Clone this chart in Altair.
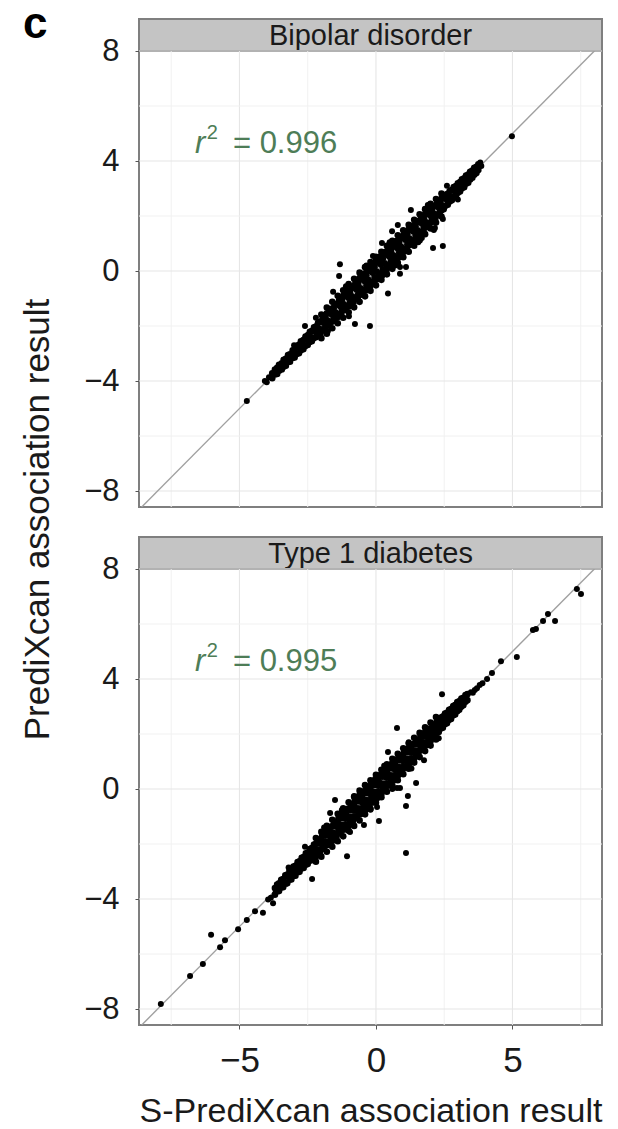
import altair as alt
import pandas as pd

FONT = "Liberation Sans"
TXT = "#1a1a1a"
GREEN = "#4e7d57"

# ---------------- Bipolar disorder ----------------
bp_x = [-3.80, -3.70, -3.62, -3.55, -3.45, -3.38, -3.30, -3.22, -3.15, -3.05,
        -2.98, -2.90, -2.82, -2.75, -2.66, -2.58, -2.50, -2.42, -2.35, -2.27,
        -2.20, -2.12, -2.03, -1.95, -1.88, -1.80, -1.72, -1.65, -1.57, -1.50,
        -1.42, -1.35, -1.27, -1.20, -1.12, -1.05, -0.97, -0.90, -0.82, -0.75,
        -0.67, -0.60, -0.52, -0.45, -0.37, -0.30, -0.22, -0.15, -0.07, 0.00,
        0.08, 0.15, 0.23, 0.30, 0.38, 0.45, 0.53, 0.60, 0.68, 0.75,
        0.83, 0.90, 0.98, 1.05, 1.13, 1.20, 1.28, 1.35, 1.43, 1.50,
        1.58, 1.65, 1.73, 1.80, 1.88, 1.95, 2.03, 2.10, 2.18, 2.25,
        2.33, 2.40, 2.48, 2.55, 2.63, 2.70, 2.78, 2.85, 2.93, 3.00,
        3.08, 3.15, 3.23, 3.30, 3.38, 3.45, 3.53, 3.60, 3.68, 3.75]
bp_ya = [-3.72, -3.58, -3.52, -3.41, -3.36, -3.23, -3.19, -3.06, -3.03, -2.88,
         -2.85, -2.72, -2.68, -2.56, -2.51, -2.38, -2.34, -2.21, -2.18, -2.05,
         -2.02, -1.88, -1.84, -1.70, -1.68, -1.54, -1.51, -1.38, -1.35, -1.22,
         -1.19, -1.06, -1.03, -0.90, -0.87, -0.74, -0.71, -0.58, -0.55, -0.42,
         -0.39, -0.26, -0.23, -0.10, -0.07, 0.06, 0.09, 0.22, 0.25, 0.38,
         0.41, 0.53, 0.57, 0.67, 0.71, 0.81, 0.85, 0.95, 0.99, 1.09,
         1.13, 1.23, 1.27, 1.37, 1.41, 1.51, 1.55, 1.65, 1.69, 1.79,
         1.83, 1.93, 1.97, 2.07, 2.11, 2.21, 2.25, 2.35, 2.39, 2.49,
         2.53, 2.63, 2.67, 2.77, 2.81, 2.91, 2.95, 3.05, 3.09, 3.19,
         3.23, 3.33, 3.37, 3.47, 3.51, 3.61, 3.65, 3.75, 3.79, 3.88]
bp_yb = [-3.90, -3.76, -3.74, -3.63, -3.58, -3.48, -3.44, -3.31, -3.30, -3.16,
         -3.14, -3.02, -2.99, -2.88, -2.84, -2.72, -2.69, -2.57, -2.55, -2.43,
         -2.41, -2.29, -2.26, -2.13, -2.12, -1.99, -1.97, -1.85, -1.83, -1.71,
         -1.69, -1.57, -1.55, -1.43, -1.41, -1.29, -1.27, -1.15, -1.13, -1.01,
         -0.99, -0.87, -0.85, -0.73, -0.71, -0.59, -0.57, -0.45, -0.43, -0.31,
         -0.29, -0.17, -0.15, -0.03, 0.01, 0.13, 0.17, 0.29, 0.33, 0.45,
         0.49, 0.61, 0.65, 0.77, 0.81, 0.93, 0.97, 1.09, 1.13, 1.25,
         1.29, 1.41, 1.45, 1.57, 1.61, 1.73, 1.77, 1.89, 1.93, 2.05,
         2.09, 2.21, 2.25, 2.37, 2.41, 2.53, 2.57, 2.69, 2.73, 2.85,
         2.89, 3.01, 3.05, 3.17, 3.21, 3.33, 3.39, 3.50, 3.56, 3.67]
bp_xc = [-3.72, -3.57, -3.42, -3.27, -3.12, -2.97, -2.82, -2.67, -2.52, -2.37,
         -2.22, -2.07, -1.92, -1.77, -1.62, -1.47, -1.32, -1.17, -1.02, -0.87,
         -0.72, -0.57, -0.42, -0.27, -0.12, 0.03, 0.18, 0.33, 0.48, 0.63,
         0.78, 0.93, 1.08, 1.23, 1.38, 1.53, 1.68, 1.83, 1.98, 2.13,
         2.28, 2.43, 2.58, 2.73, 2.88, 3.03, 3.18, 3.33, 3.48, 3.63]
bp_yc = [-3.70, -3.60, -3.39, -3.30, -3.09, -3.01, -2.78, -2.71, -2.49, -2.41,
         -2.18, -2.11, -1.88, -1.81, -1.57, -1.52, -1.27, -1.22, -0.96, -0.93,
         -0.66, -0.63, -0.36, -0.33, -0.06, -0.03, 0.24, 0.27, 0.54, 0.57,
         0.84, 0.87, 1.14, 1.17, 1.44, 1.47, 1.74, 1.77, 2.04, 2.07,
         2.33, 2.38, 2.62, 2.69, 2.92, 2.99, 3.22, 3.29, 3.52, 3.59]
bp_xq = [-2.60, -2.45, -2.30, -2.15, -2.00, -1.85, -1.70, -1.55, -1.40, -1.25,
         -1.10, -0.95, -0.80, -0.65, -0.50, -0.35, -0.20, -0.05, 0.10, 0.25,
         0.40, 0.55, 0.70, 0.85, 1.00, 1.15, 1.30, 1.45, 1.60, 1.75,
         1.90, 2.05, 2.20, 2.35, 2.50, 2.65, 2.80, 2.95, 3.10]
bp_yq_up = [-2.48, -2.31, -2.16, -1.99, -1.84, -1.68, -1.53, -1.37, -1.22, -1.06,
            -0.91, -0.76, -0.61, -0.46, -0.31, -0.15, 0.00, 0.15, 0.30, 0.45,
            0.60, 0.74, 0.89, 1.04, 1.19, 1.34, 1.48, 1.63, 1.78, 1.92,
            2.07, 2.22, 2.36, 2.50, 2.64, 2.78, 2.93, 3.07, 3.22]
bp_yq_dn = [-2.73, -2.59, -2.45, -2.31, -2.17, -2.02, -1.88, -1.73, -1.59, -1.44,
            -1.29, -1.14, -0.99, -0.84, -0.69, -0.54, -0.39, -0.24, -0.09, 0.06,
            0.21, 0.36, 0.51, 0.66, 0.81, 0.96, 1.12, 1.27, 1.42, 1.58,
            1.73, 1.88, 2.04, 2.19, 2.35, 2.51, 2.66, 2.82, 2.98]
bp_xo = [-2.0, -1.8, -1.6, -1.4, -1.2, -1.0, -0.8, -0.6, -0.4, -0.2, 0.0, 0.2,
         0.4, 0.6, 0.8, 1.0, 1.2, 1.4, 1.6, 1.8, 2.0, 2.2, 2.4]
bp_yo_up = [-1.58, -1.33, -1.12, -0.90, -0.70, -0.47, -0.28, -0.06, 0.14, 0.33, 0.52, 0.70,
            0.92, 1.10, 1.30, 1.48, 1.68, 1.86, 2.06, 2.25, 2.44, 2.62, 2.82]
bp_yo_dn = [-2.44, -2.28, -2.08, -1.90, -1.70, -1.50, -1.32, -1.12, -0.92, -0.72, -0.52, -0.32,
            -0.12, 0.08, 0.30, 0.50, 0.70, 0.92, 1.12, 1.34, 1.55, 1.76, 1.98]
bp_ox = [-4.73, -4.07, -4.00, -3.92, 3.82, 3.86, 4.98,
         1.28, 0.80, 0.59, 0.22, 2.45, 2.16, 2.09, 2.45, -1.32, -1.35, 0.88, 1.10,
         0.88, 0.44, -1.57, -0.77, -0.22, -2.60, -0.11, -1.76, -0.99, 2.12, 1.68,
         -2.20, -1.10, -0.35, 0.50, 0.70, 1.55, 2.60, -3.00, 1.90, 3.00]
bp_oy = [-4.73, -4.00, -4.04, -3.86, 3.95, 3.82, 4.90,
         2.22, 1.67, 1.45, 1.02, 1.89, 1.56, 0.84, 0.91, 0.25, -0.18, 0.15, 0.15,
         -0.10, -0.82, -0.75, -1.93, -2.00, -2.00, 0.55, -2.18, -1.64, 1.49, 1.20,
         -1.70, -0.55, 0.20, 1.05, 0.20, 1.05, 3.10, -2.70, 2.40, 2.60]

# ---------------- Type 1 diabetes ----------------
t1d_x = [-3.70, -3.62, -3.55, -3.47, -3.40, -3.32, -3.25, -3.17, -3.10, -3.02,
         -2.95, -2.87, -2.80, -2.72, -2.65, -2.57, -2.50, -2.42, -2.35, -2.27,
         -2.20, -2.12, -2.05, -1.97, -1.90, -1.82, -1.75, -1.67, -1.60, -1.52,
         -1.45, -1.37, -1.30, -1.22, -1.15, -1.07, -1.00, -0.92, -0.85, -0.77,
         -0.70, -0.62, -0.55, -0.47, -0.40, -0.32, -0.25, -0.17, -0.10, -0.02,
         0.05, 0.13, 0.20, 0.28, 0.35, 0.43, 0.50, 0.58, 0.65, 0.73,
         0.80, 0.88, 0.95, 1.03, 1.10, 1.18, 1.25, 1.33, 1.40, 1.48,
         1.55, 1.63, 1.70, 1.78, 1.85, 1.93, 2.00, 2.08, 2.15, 2.23,
         2.30, 2.38, 2.45, 2.53, 2.60, 2.68, 2.75, 2.83, 2.90, 2.98,
         3.05, 3.13, 3.20, 3.28, 3.35]
t1d_ya = [-3.60, -3.47, -3.43, -3.30, -3.27, -3.14, -3.11, -2.98, -2.95, -2.82,
          -2.79, -2.66, -2.63, -2.50, -2.47, -2.34, -2.31, -2.18, -2.15, -2.02,
          -1.99, -1.86, -1.83, -1.70, -1.67, -1.54, -1.51, -1.38, -1.35, -1.22,
          -1.19, -1.06, -1.03, -0.90, -0.87, -0.73, -0.71, -0.57, -0.55, -0.41,
          -0.39, -0.25, -0.23, -0.09, -0.07, 0.06, 0.09, 0.22, 0.25, 0.36,
          0.39, 0.50, 0.53, 0.64, 0.67, 0.78, 0.81, 0.92, 0.95, 1.06,
          1.09, 1.20, 1.23, 1.34, 1.37, 1.48, 1.51, 1.62, 1.65, 1.76,
          1.79, 1.90, 1.93, 2.04, 2.07, 2.18, 2.21, 2.32, 2.35, 2.46,
          2.49, 2.60, 2.63, 2.74, 2.77, 2.88, 2.91, 3.02, 3.05, 3.16,
          3.19, 3.29, 3.32, 3.42, 3.45]
t1d_yb = [-3.84, -3.72, -3.71, -3.58, -3.57, -3.44, -3.43, -3.30, -3.29, -3.16,
          -3.15, -3.02, -3.01, -2.88, -2.87, -2.74, -2.73, -2.60, -2.59, -2.46,
          -2.45, -2.32, -2.31, -2.18, -2.17, -2.04, -2.03, -1.90, -1.89, -1.76,
          -1.75, -1.62, -1.61, -1.48, -1.47, -1.34, -1.33, -1.20, -1.19, -1.06,
          -1.05, -0.92, -0.91, -0.78, -0.77, -0.64, -0.63, -0.50, -0.48, -0.36,
          -0.33, -0.20, -0.17, -0.04, -0.01, 0.12, 0.15, 0.28, 0.31, 0.44,
          0.47, 0.60, 0.63, 0.76, 0.79, 0.92, 0.95, 1.08, 1.11, 1.24,
          1.27, 1.40, 1.43, 1.56, 1.59, 1.72, 1.75, 1.88, 1.91, 2.04,
          2.07, 2.20, 2.23, 2.36, 2.39, 2.52, 2.55, 2.68, 2.71, 2.84,
          2.88, 3.00, 3.05, 3.17, 3.23]
t1d_xc = [-3.66, -3.51, -3.36, -3.21, -3.06, -2.91, -2.76, -2.61, -2.46, -2.31,
          -2.16, -2.01, -1.86, -1.71, -1.56, -1.41, -1.26, -1.11, -0.96, -0.81,
          -0.66, -0.51, -0.36, -0.21, -0.06, 0.09, 0.24, 0.39, 0.54, 0.69,
          0.84, 0.99, 1.14, 1.29, 1.44, 1.59, 1.74, 1.89, 2.04, 2.19,
          2.34, 2.49, 2.64, 2.79, 2.94, 3.09, 3.24]
t1d_yc = [-3.70, -3.48, -3.40, -3.18, -3.10, -2.88, -2.80, -2.58, -2.50, -2.28,
          -2.20, -1.98, -1.90, -1.68, -1.60, -1.38, -1.30, -1.08, -1.00, -0.78,
          -0.70, -0.48, -0.40, -0.18, -0.10, 0.12, 0.20, 0.42, 0.50, 0.72,
          0.80, 1.02, 1.10, 1.32, 1.40, 1.62, 1.70, 1.92, 2.00, 2.22,
          2.30, 2.52, 2.60, 2.82, 2.90, 3.12, 3.20]
t1d_xq = [-2.90, -2.75, -2.60, -2.45, -2.30, -2.15, -2.00, -1.85, -1.70, -1.55,
          -1.40, -1.25, -1.10, -0.95, -0.80, -0.65, -0.50, -0.35, -0.20, -0.05,
          0.10, 0.25, 0.40, 0.55, 0.70, 0.85, 1.00, 1.15, 1.30, 1.45,
          1.60, 1.75, 1.90, 2.05, 2.20, 2.35, 2.50, 2.65, 2.80, 2.95, 3.10]
t1d_yq_up = [-2.78, -2.62, -2.46, -2.30, -2.14, -1.98, -1.83, -1.67, -1.52, -1.36,
             -1.21, -1.06, -0.91, -0.76, -0.60, -0.45, -0.30, -0.15, 0.00, 0.15,
             0.30, 0.45, 0.60, 0.75, 0.89, 1.04, 1.19, 1.34, 1.48, 1.63,
             1.78, 1.92, 2.07, 2.21, 2.36, 2.50, 2.65, 2.79, 2.93, 3.08, 3.22]
t1d_yq_dn = [-3.03, -2.89, -2.75, -2.61, -2.47, -2.32, -2.18, -2.04, -1.89, -1.74,
             -1.59, -1.44, -1.29, -1.14, -0.99, -0.84, -0.69, -0.54, -0.39, -0.24,
             -0.09, 0.06, 0.21, 0.36, 0.51, 0.66, 0.81, 0.96, 1.11, 1.27,
             1.42, 1.58, 1.73, 1.89, 2.04, 2.20, 2.35, 2.51, 2.67, 2.82, 2.98]
t1d_xo = [-2.2, -2.0, -1.8, -1.6, -1.4, -1.2, -1.0, -0.8, -0.6, -0.4, -0.2, 0.0,
          0.2, 0.4, 0.6, 0.8, 1.0, 1.2, 1.4, 1.6, 1.8, 2.0, 2.2]
t1d_yo_up = [-1.78, -1.56, -1.34, -1.12, -0.90, -0.70, -0.48, -0.28, -0.06, 0.14, 0.32, 0.52,
             0.70, 0.90, 1.10, 1.28, 1.48, 1.66, 1.86, 2.04, 2.24, 2.42, 2.62]
t1d_yo_dn = [-2.64, -2.46, -2.28, -2.10, -1.90, -1.72, -1.52, -1.34, -1.14, -0.92, -0.72, -0.50,
             -0.30, -0.10, 0.12, 0.32, 0.54, 0.74, 0.96, 1.16, 1.38, 1.58, 1.80]
t1d_ox = [-3.77, -4.14, -4.43, -4.73, -5.05, -5.53, -5.71, -6.04, -6.34, -6.81, -7.88, -3.85, -3.95,
          3.48, 3.55, 3.62, 3.70, 3.80, 3.90, 4.07, 4.25, 4.58, 5.16, 5.75, 5.86, 6.12, 6.30, 6.56, 7.36, 7.51,
          2.42, 0.77, 0.44, 1.76, 1.47, 1.17, 1.10, 0.77, 0.88, 0.11, -0.44, -1.50, -1.68, -0.95, -1.06,
          1.10, -2.34, -1.25, 0.04,
          -2.60, -1.90, -0.80, 0.30, 1.30, 0.60, -0.20, 2.30, 1.20, -3.20]
t1d_oy = [-4.15, -4.50, -4.44, -4.76, -5.10, -5.50, -5.75, -5.30, -6.36, -6.80, -7.82, -3.95, -4.02,
          3.52, 3.50, 3.60, 3.66, 3.78, 3.85, 4.00, 4.22, 4.65, 4.80, 5.78, 5.82, 6.11, 6.36, 6.11, 7.27, 7.09,
          3.45, 2.22, 1.35, 1.05, 0.22, -0.25, -0.62, 0.04, 0.04, -1.16, -1.31, -0.40, -0.87, -1.56, -2.44,
          -2.33, -3.27, -0.76, -0.65,
          -2.10, -1.40, -0.25, 0.85, 0.75, 0.00, -0.75, 1.85, 1.70, -2.85]

# annotation / guide values
panel_names = ["Bipolar disorder", "Type 1 diabetes"]
r2_values = ["0.996", "0.995"]
x_ticks = [-5, 0, 5]
y_ticks = [-8, -4, 0, 4, 8]
x_minor = [-7.5, -2.5, 2.5, 7.5]
y_minor = [-6, -2, 2, 6]
identity_line = [-9, 9]

W, H, SH = 463, 456, 32
XS = alt.Scale(domain=[-8.68, 8.28], nice=False, zero=False)
YS = alt.Scale(domain=[-8.58, 8.0], nice=False, zero=False)

Y_AXIS = alt.Axis(values=y_ticks, grid=False, title=None, domain=False,
                  labelFontSize=31, labelFont=FONT, labelColor=TXT,
                  tickColor="#555555", tickSize=4, labelPadding=16)
X_AXIS = alt.Axis(values=x_ticks, grid=False, domain=False,
                  title="S-PrediXcan association result", titleFontSize=34,
                  titleFont=FONT, titleFontWeight="normal", titleColor=TXT,
                  titlePadding=16, labelFontSize=35, labelFont=FONT,
                  labelColor=TXT, tickColor="#555555", tickSize=4, labelPadding=14)


def panel(band_x, band_y, out_x, out_y, r2, show_x):
    xax = X_AXIS if show_x else None

    def X(f):
        return alt.X(f, type="quantitative", scale=XS, axis=xax)

    def Y(f):
        return alt.Y(f, type="quantitative", scale=YS, axis=Y_AXIS)

    gxm = alt.Chart(pd.DataFrame({"v": x_minor})).mark_rule(color="#f1f1f1", strokeWidth=1).encode(x=X("v"))
    gxM = alt.Chart(pd.DataFrame({"v": x_ticks})).mark_rule(color="#e6e6e6", strokeWidth=1.1).encode(x=X("v"))
    gym = alt.Chart(pd.DataFrame({"v": y_minor})).mark_rule(color="#f1f1f1", strokeWidth=1).encode(y=Y("v"))
    gyM = alt.Chart(pd.DataFrame({"v": y_ticks})).mark_rule(color="#e6e6e6", strokeWidth=1.1).encode(y=Y("v"))
    diag = alt.Chart(pd.DataFrame({"x": identity_line, "y": identity_line})).mark_line(
        color="#a0a0a0", strokeWidth=1.4, clip=True).encode(x=X("x"), y=Y("y"))
    band = alt.Chart(pd.DataFrame({"x": band_x, "y": band_y})).mark_circle(
        size=44, color="#000000", opacity=1).encode(x=X("x"), y=Y("y"))
    outl = alt.Chart(pd.DataFrame({"x": out_x, "y": out_y})).mark_circle(
        size=36, color="#000000", opacity=1).encode(x=X("x"), y=Y("y"))
    t_r = alt.Chart(pd.DataFrame({"x": [-6.63], "y": [4.28], "t": ["r"]})).mark_text(
        align="left", baseline="alphabetic", fontSize=31, font=FONT, fontStyle="italic",
        color=GREEN).encode(x=X("x"), y=Y("y"), text="t:N")
    t_2 = alt.Chart(pd.DataFrame({"x": [-6.2], "y": [4.80], "t": ["2"]})).mark_text(
        align="left", baseline="alphabetic", fontSize=20, font=FONT,
        color=GREEN).encode(x=X("x"), y=Y("y"), text="t:N")
    t_eq = alt.Chart(pd.DataFrame({"x": [-5.24], "y": [4.28], "t": ["= " + r2]})).mark_text(
        align="left", baseline="alphabetic", fontSize=31, font=FONT,
        color=GREEN).encode(x=X("x"), y=Y("y"), text="t:N")
    return alt.layer(gxm, gxM, gym, gyM, diag, band, outl, t_r, t_2, t_eq).properties(
        width=W, height=H,
        view=alt.ViewBackground(stroke="#7f7f7f", strokeWidth=2, fill="white"))


def strip(name, tag=None):
    lab = alt.Chart(pd.DataFrame({"t": [name]})).mark_text(
        fontSize=29, font=FONT, color=TXT, baseline="alphabetic", align="center").encode(
        text="t:N", x=alt.value(W / 2), y=alt.value(26))
    layers = [lab]
    if tag:
        layers.append(alt.Chart(pd.DataFrame({"t": [tag]})).mark_text(
            fontSize=44, font=FONT, fontWeight="bold", color="#000000",
            baseline="alphabetic", align="left").encode(
            text="t:N", x=alt.value(-116), y=alt.value(19)))
    return alt.layer(*layers).properties(
        width=W, height=SH,
        view=alt.ViewBackground(fill="#c4c4c4", stroke="#7f7f7f", strokeWidth=2))


bp_band_x = bp_x + bp_x + bp_xc + bp_xq + bp_xq + bp_xo + bp_xo
bp_band_y = bp_ya + bp_yb + bp_yc + bp_yq_up + bp_yq_dn + bp_yo_up + bp_yo_dn
t1d_band_x = t1d_x + t1d_x + t1d_xc + t1d_xq + t1d_xq + t1d_xo + t1d_xo
t1d_band_y = t1d_ya + t1d_yb + t1d_yc + t1d_yq_up + t1d_yq_dn + t1d_yo_up + t1d_yo_dn

top = alt.vconcat(strip(panel_names[0], "c"),
                  panel(bp_band_x, bp_band_y, bp_ox, bp_oy, r2_values[0], False),
                  spacing=0, bounds="flush")
bottom = alt.vconcat(strip(panel_names[1]),
                     panel(t1d_band_x, t1d_band_y, t1d_ox, t1d_oy, r2_values[1], True),
                     spacing=0, bounds="flush")

chart = alt.vconcat(top, bottom, spacing=27).properties(
    title=alt.TitleParams("PrediXcan association result", orient="left", anchor="middle",
                          fontSize=35, font=FONT, fontWeight="normal",
                          color=TXT, offset=-34, dx=46),
    padding={"left": 12, "top": -6, "right": 0, "bottom": -7},
).configure(background="white")

chart.save("out.html", embed_options={"renderer": "svg", "actions": False})
